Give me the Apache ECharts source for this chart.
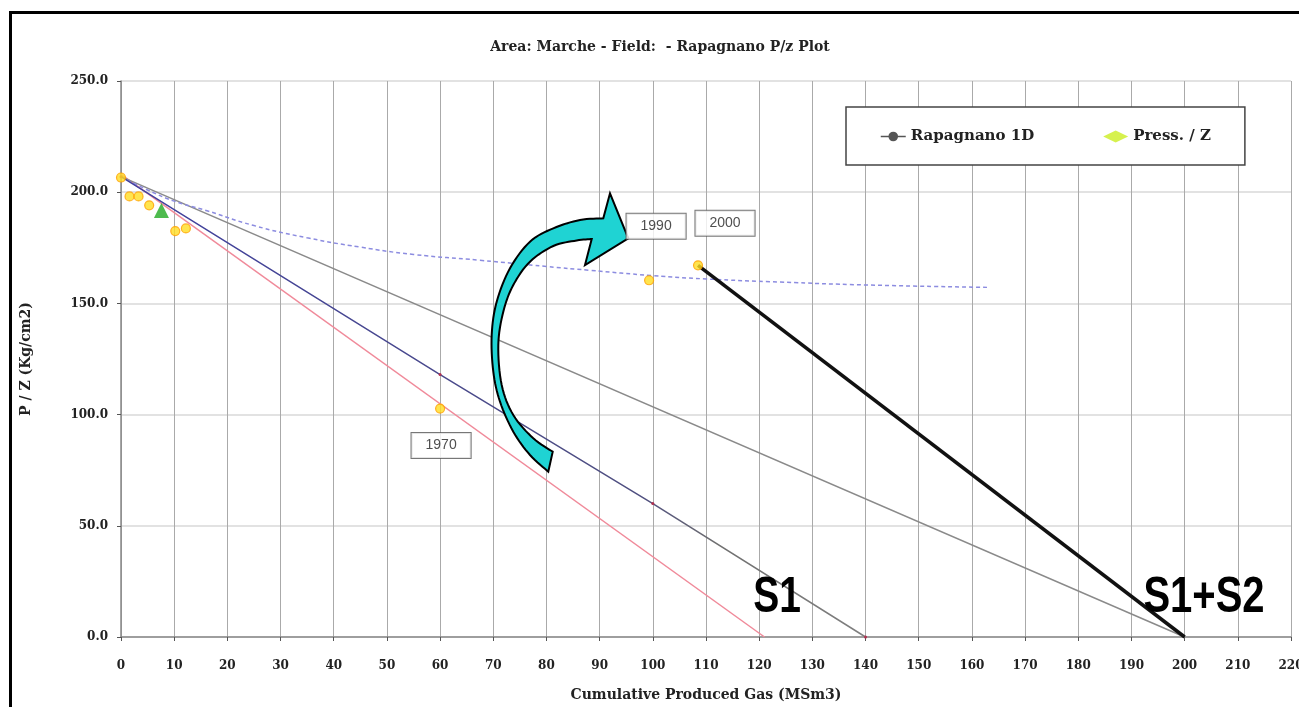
<!DOCTYPE html>
<html>
<head>
<meta charset="utf-8">
<script src="https://cdn.jsdelivr.net/npm/echarts@6/dist/echarts.min.js"></script>
<style>
html,body{margin:0;padding:0;background:#fff;}
#main{width:1299px;height:707px;}
</style>
</head>
<body>
<div id="main"></div>
<script>
// ---- data ----
var xTicks = [0,10,20,30,40,50,60,70,80,90,100,110,120,130,140,150,160,170,180,190,200,210,220];
var yTicks = [0,50,100,150,200,250];

var pressX = [0, 1.6, 3.3, 5.3, 10.2, 12.2, 60, 99.3, 108.5];
var pressY = [206.6, 198.1, 198.1, 194.1, 182.5, 183.7, 102.7, 160.4, 167.1];
var pressYear = ['', '', '', '', '', '', '1970', '1990', '2000'];

var rapX = [0, 60, 100, 140];
var rapY = [207, 118, 60, 0];

var pinkX = [0, 121];
var pinkY = [208, 0];

var s12X = [0, 200];
var s12Y = [207, 0];

var blackX = [108.5, 200];
var blackY = [167.1, 0];

var curveX = [0, 5, 10, 16, 25, 35, 45, 55, 67.5, 80, 88, 100, 110, 124, 140, 163];
var curveY = [207, 201, 196, 191.8, 185, 179.5, 175.3, 172, 169.4, 166.6, 164.9, 162.5, 161, 159.6, 158.3, 157.2];

var triX = [7.6];
var triY = [191.8];

function pairs(xs, ys){ return xs.map(function(x,i){ return [x, ys[i]]; }); }

var yearOffsets = { '1970':[1,37], '1990':[7,-54], '2000':[27,-42] };

var chart = echarts.init(document.getElementById('main'));

var serif = "'DejaVu Serif', 'Liberation Serif', serif";

// ---- arrow decoration (pixel outline, smoothed) ----
function catmull(pts, n){
  var out = [];
  for (var i = 0; i < pts.length - 1; i++){
    var p0 = pts[Math.max(0,i-1)], p1 = pts[i], p2 = pts[i+1], p3 = pts[Math.min(pts.length-1,i+2)];
    for (var k = 0; k < n; k++){
      var t = k/n, t2 = t*t, t3 = t2*t;
      out.push([
        0.5*((2*p1[0]) + (-p0[0]+p2[0])*t + (2*p0[0]-5*p1[0]+4*p2[0]-p3[0])*t2 + (-p0[0]+3*p1[0]-3*p2[0]+p3[0])*t3),
        0.5*((2*p1[1]) + (-p0[1]+p2[1])*t + (2*p0[1]-5*p1[1]+4*p2[1]-p3[1])*t2 + (-p0[1]+3*p1[1]-3*p2[1]+p3[1])*t3)
      ]);
    }
  }
  out.push(pts[pts.length-1]);
  return out;
}
var arrowInner = [[552.7,451.7],[533.3,438.3],[513.3,415],[501.7,385],[498.3,345],[503.3,311.7],
  [513.3,285],[530,261.7],[553.3,246],[576.7,240.5],[591.7,239]];
var arrowHead = [[585,265],[628.3,238.3],[610,193.3]];
var arrowOuter = [[603.3,218.3],[580,220],[553.3,228.3],[530,241.7],[510,268.3],[496.7,301.7],[491.7,335],
  [493.3,371.7],[500,401.7],[513.3,431.7],[530,455],[548.3,471.7]];
var arrowPts = catmull(arrowInner, 8).concat(arrowHead).concat(catmull(arrowOuter, 8));

var yearData = pairs(pressX, pressY).map(function(p,i){
  var yr = pressYear[i];
  return {
    value: p,
    label: yr ? { show:true, formatter: yr, position:'inside', offset: yearOffsets[yr] } : { show:false }
  };
}).filter(function(d){ return d.label.show; });

var option = {
  animation: false,
  backgroundColor: '#ffffff',
  grid: { left: 121, right: 8, top: 81, bottom: 70, containLabel: false, outerBoundsMode: 'none' },
  legend: {
    left: 846, top: 107,
    padding: [22, 34, 21, 34],
    backgroundColor: '#ffffff',
    borderColor: '#444',
    borderWidth: 1.5,
    itemGap: 69,
    itemWidth: 25, itemHeight: 12,
    textStyle: { fontFamily: serif, fontWeight: 'bold', fontSize: 15, color: '#222' },
    data: [
      { name: 'Rapagnano 1D', itemStyle: { color: '#555' }, lineStyle: { color: '#555', width: 1.5 } },
      { name: 'Press. / Z', icon: 'diamond', itemStyle: { color: '#ccee22', borderWidth: 0 } }
    ]
  },
  xAxis: {
    type: 'value', min: 0, max: 220, interval: 10,
    name: 'Cumulative Produced Gas (MSm3)',
    nameLocation: 'middle', nameGap: 51,
    nameTextStyle: { fontFamily: serif, fontWeight: 'bold', fontSize: 14, color: '#222' },
    axisLine: { show: true, lineStyle: { color: '#888', width: 1.5 } },
    axisTick: { show: true, length: 4, lineStyle: { color: '#555' } },
    axisLabel: { margin: 23, fontFamily: serif, fontWeight: 'bold', fontSize: 12, color: '#222' },
    splitLine: { show: true, lineStyle: { color: '#aaa', width: 1 } }
  },
  yAxis: {
    type: 'value', min: 0, max: 250, interval: 50,
    name: 'P / Z (Kg/cm2)',
    nameLocation: 'middle', nameGap: 88, nameRotate: 90,
    nameTextStyle: { fontFamily: serif, fontWeight: 'bold', fontSize: 14, color: '#222' },
    axisLine: { show: true, lineStyle: { color: '#888', width: 1.5 } },
    axisTick: { show: true, length: 4, lineStyle: { color: '#555' } },
    axisLabel: { margin: 13, fontFamily: serif, fontWeight: 'bold', fontSize: 12, color: '#222',
      formatter: function(v){ return v.toFixed(1); } },
    splitLine: { show: true, lineStyle: { color: '#e2e2e2', width: 2 } }
  },
  series: [
    { name: 'pink', type: 'line', data: pairs(pinkX, pinkY), symbol: 'none',
      lineStyle: { color: '#f08a9a', width: 1.5 }, z: 2 },
    { name: 's12', type: 'line', data: pairs(s12X, s12Y), symbol: 'none',
      lineStyle: { color: '#8a8a8a', width: 1.5 }, z: 2 },
    { name: 'Rapagnano 1D', type: 'line', data: pairs(rapX, rapY),
      symbol: 'circle', symbolSize: 3, itemStyle: { color: '#b03050' },
      lineStyle: { width: 1.5, color: new echarts.graphic.LinearGradient(0,0,1,0,[
        {offset:0,color:'#4040a0'},{offset:0.7,color:'#505080'},{offset:0.8,color:'#707070'},{offset:1,color:'#808080'}]) },
      z: 3 },
    { name: 'curve', type: 'line', data: pairs(curveX, curveY), symbol: 'none', smooth: true,
      lineStyle: { color: '#8c8ce0', width: 1.5, type: [4,3] }, z: 2 },
    { name: 'black', type: 'line', data: pairs(blackX, blackY), symbol: 'none',
      lineStyle: { color: '#111', width: 3.5 }, z: 4 },
    { name: 'Press. / Z', type: 'scatter', data: pairs(pressX, pressY),
      symbol: 'circle', symbolSize: 9,
      itemStyle: { color: '#ffdd22', borderColor: '#ffa000', borderWidth: 1.2 }, z: 5 },
    { name: 'tri', type: 'scatter', data: pairs(triX, triY), symbol: 'triangle', symbolSize: 15,
      itemStyle: { color: '#22aa22' }, z: 6 },
    { name: 'years', type: 'scatter', data: yearData, symbolSize: 0, silent: true, z: 20,
      label: { fontFamily: "'Liberation Sans', Arial, sans-serif", fontSize: 14, color: '#222',
        backgroundColor: '#fff', borderColor: '#555', borderWidth: 1, padding: [6, 14, 5, 14] } }
  ],
  graphic: [
    { type: 'rect', shape: { x: 10.5, y: 12.5, width: 1320, height: 720 },
      style: { fill: 'none', stroke: '#000', lineWidth: 3 }, z: 50, silent: true },
    { type: 'text', x: 660, y: 47, z: 10,
      style: { text: 'Area: Marche - Field:  - Rapagnano P/z Plot', fill: '#222',
        font: 'bold 14px ' + serif, textAlign: 'center', textVerticalAlign: 'middle' } },
    { type: 'polygon', shape: { points: arrowPts }, z: 10,
      style: { fill: '#1fd3d3', stroke: '#000', lineWidth: 2, lineJoin: 'miter' } },
    { type: 'text', x: 777, y: 598, z: 10, scaleX: 0.78,
      style: { text: 'S1', fill: '#000', font: "bold 50px 'Liberation Sans', Arial, sans-serif",
        textAlign: 'center', textVerticalAlign: 'middle' } },
    { type: 'text', x: 1204, y: 598, z: 10, scaleX: 0.8,
      style: { text: 'S1+S2', fill: '#000', font: "bold 50px 'Liberation Sans', Arial, sans-serif",
        textAlign: 'center', textVerticalAlign: 'middle' } }
  ]
};
chart.setOption(option);
</script>
</body>
</html>
